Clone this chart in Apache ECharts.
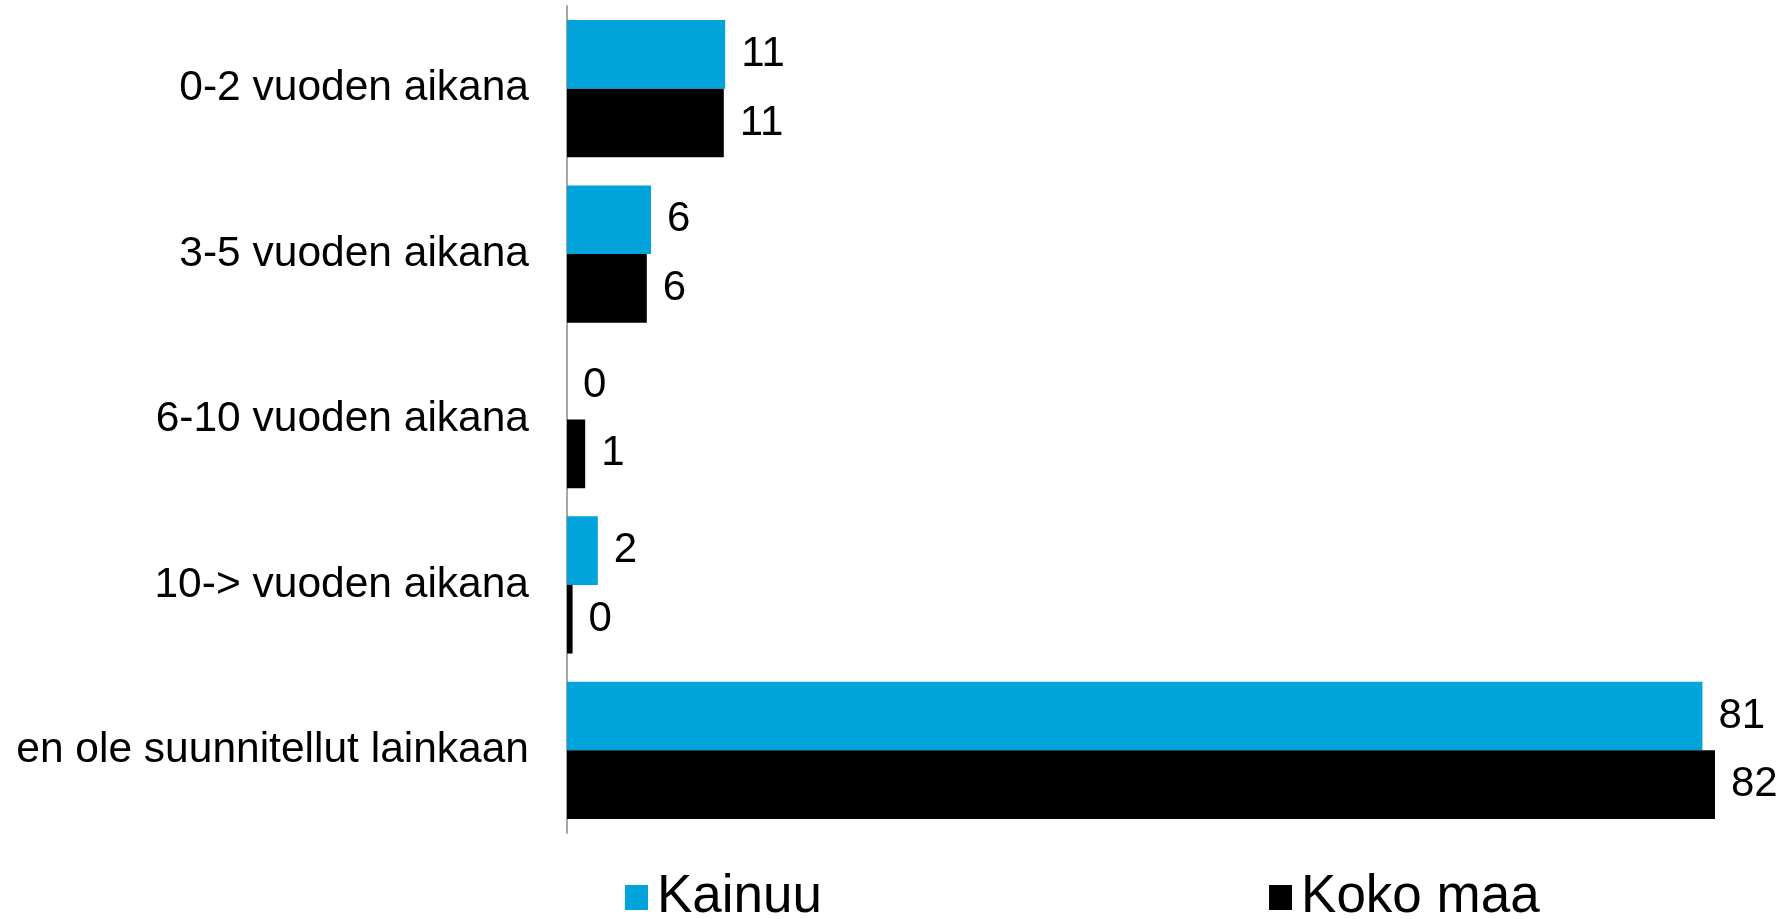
<!DOCTYPE html>
<html>
<head>
<meta charset="utf-8">
<script src="https://cdn.jsdelivr.net/npm/echarts@6/dist/echarts.min.js"></script>
<style>
html,body{margin:0;padding:0;background:#fff;}
#chart{width:1789px;height:919px;}
</style>
</head>
<body>
<div id="chart"></div>
<script>
const categories = ["0-2 vuoden aikana", "3-5 vuoden aikana", "6-10 vuoden aikana", "10-> vuoden aikana", "en ole suunnitellut lainkaan"];
const seriesNames = ["Kainuu", "Koko maa"];
const kainuu = [11.3, 6.0, 0, 2.2, 81.1];
const kokoMaa = [11.2, 5.7, 1.3, 0.4, 82.0];
const colors = ["#00A3DA", "#000000"];

const font = "'Liberation Sans', Arial, sans-serif";
const chart = echarts.init(document.getElementById('chart'), null, {renderer: 'canvas'});
const labelCfg = {
  show: true,
  position: 'right',
  distance: 16,
  fontSize: 42,
  fontFamily: font,
  color: '#000',
  formatter: p => Math.round(p.value)
};
chart.setOption({
  animation: false,
  backgroundColor: '#fff',
  color: colors,
  grid: {left: 567, top: 6, width: 1190, bottom: 86, containLabel: false},
  legend: {
    data: seriesNames,
    left: 620,
    top: 866,
    itemWidth: 23,
    itemHeight: 25,
    itemGap: 447,
    icon: 'rect',
    textStyle: {fontSize: 53, fontFamily: font, color: '#000', padding: [0, 0, 0, 4]}
  },
  xAxis: {
    type: 'value', min: 0, max: 85,
    show: false,
    splitLine: {show: false}
  },
  yAxis: {
    type: 'category',
    data: categories,
    inverse: true,
    axisLine: {show: true, lineStyle: {color: '#a6a6a6', width: 2}},
    axisTick: {show: false},
    axisLabel: {fontSize: 42.5, fontFamily: font, color: '#000', margin: 38}
  },
  series: [
    {name: seriesNames[0], type: 'bar', data: kainuu, barGap: '0%', barCategoryGap: '17%', label: labelCfg, itemStyle: {color: colors[0]}},
    {name: seriesNames[1], type: 'bar', data: kokoMaa, barGap: '0%', barCategoryGap: '17%', label: labelCfg, itemStyle: {color: colors[1]}}
  ]
});
</script>
</body>
</html>
